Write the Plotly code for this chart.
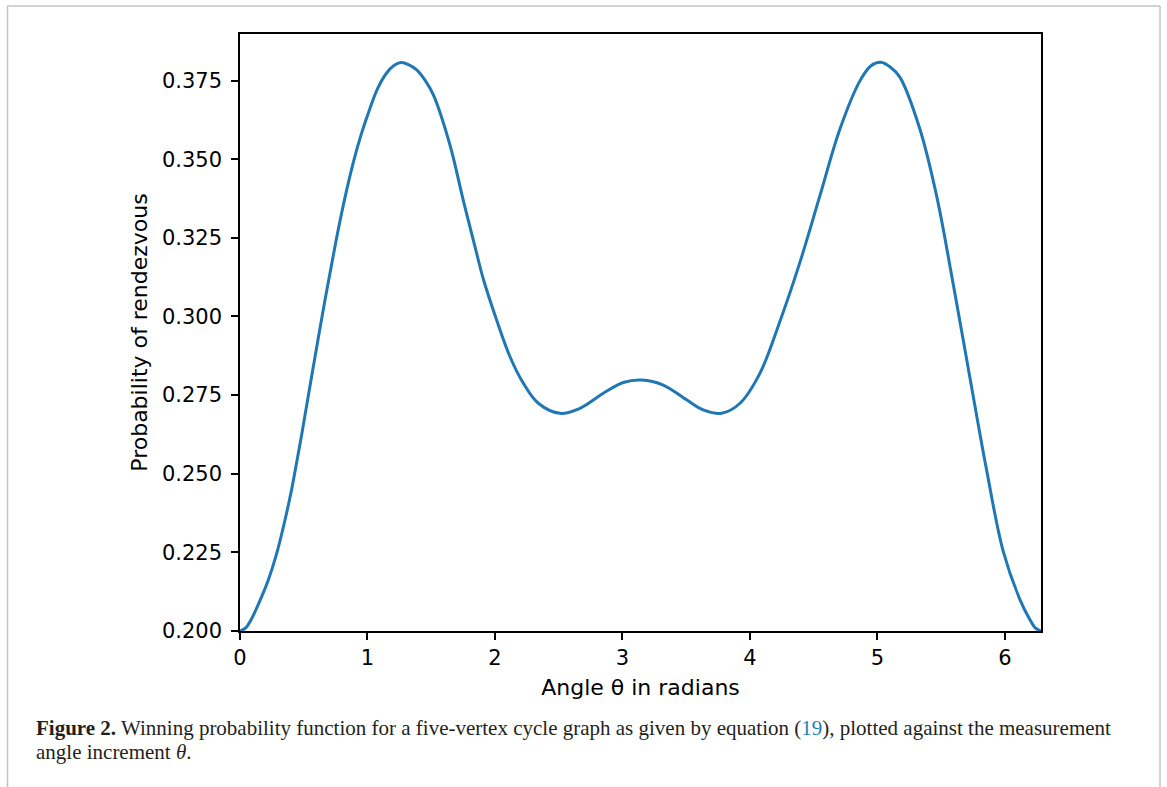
import math
import plotly.graph_objects as go

# ---- data ----
theta = [0.000, 0.045, 0.092, 0.170, 0.222, 0.288, 0.353, 0.405, 0.444, 0.484, 0.558,
         0.667, 0.753, 0.819, 0.889, 0.950, 1.020, 1.080, 1.150, 1.205, 1.263, 1.325,
         1.386, 1.450, 1.516, 1.647, 1.751, 1.856, 1.908, 2.013, 2.118, 2.222, 2.340,
         2.510, 2.667, 2.850, 3.007, 3.150, 3.320, 3.503, 3.634, 3.778, 3.922,
         4.078, 4.235, 4.392, 4.549, 4.706, 4.863, 4.950, 5.027, 5.100, 5.176, 5.333,
         5.464, 5.595, 5.725, 5.856, 5.987, 6.118, 6.191, 6.238, 6.283]
prob = [0.2000, 0.2010, 0.2040, 0.2109, 0.2162, 0.2247, 0.2353, 0.2450, 0.2535, 0.2625, 0.2800,
        0.3053, 0.3240, 0.3370, 0.3490, 0.3578, 0.3662, 0.3725, 0.3774, 0.3797, 0.3807, 0.3800,
        0.3784, 0.3752, 0.3705, 0.3545, 0.3370, 0.3201, 0.3120, 0.2989, 0.2872, 0.2788, 0.2724,
        0.2692, 0.2708, 0.2756, 0.2790, 0.2798, 0.2782, 0.2735, 0.2703, 0.2692, 0.2724,
        0.2819, 0.2984, 0.3172, 0.3384, 0.3596, 0.3749, 0.3797, 0.3808, 0.3793, 0.3761, 0.3596,
        0.3384, 0.3102, 0.2807, 0.2513, 0.2253, 0.2100, 0.2040, 0.2010, 0.2000]

x_ticks = [0, 1, 2, 3, 4, 5, 6]
x_tick_labels = ["0", "1", "2", "3", "4", "5", "6"]
y_ticks = [0.200, 0.225, 0.250, 0.275, 0.300, 0.325, 0.350, 0.375]
y_tick_labels = ["0.200", "0.225", "0.250", "0.275", "0.300", "0.325", "0.350", "0.375"]

x_title = "Angle θ in radians"
y_title = "Probability of rendezvous"
caption_1 = ("<b>Figure 2.</b> Winning probability function for a five-vertex cycle graph as given by "
             "equation (<span style='color:#1c7fb6'>19</span>), plotted against the measurement")
caption_2 = "angle increment <i>θ</i>."

# ---- layout geometry (pixels) ----
W, H = 1167, 787
L, R, T, B = 240, 1041, 34, 631


def px(xpix):
    return (xpix - L) / (R - L)


def py(ypix):
    return (B - ypix) / (B - T)


fig = go.Figure()
fig.add_trace(go.Scatter(
    x=theta, y=prob, mode="lines",
    line=dict(color="#1f77b4", width=3, shape="spline", smoothing=1.0),
    showlegend=False, hoverinfo="skip",
))

tick_font = dict(family="DejaVu Sans", size=21, color="black")
title_font = dict(family="DejaVu Sans", size=22, color="black")

fig.update_layout(
    width=W, height=H,
    margin=dict(l=L, r=W - R, t=T, b=H - B),
    paper_bgcolor="white", plot_bgcolor="white",
    font=tick_font,
    xaxis=dict(
        range=[0, 2 * math.pi], tickmode="array", tickvals=x_ticks, ticktext=x_tick_labels,
        ticks="outside", ticklen=7, tickwidth=1.6, tickcolor="black",
        showline=True, linecolor="black", linewidth=1.6, mirror=True,
        showgrid=False, zeroline=False, tickfont=tick_font,
        title=dict(text=x_title, font=title_font, standoff=11),
    ),
    yaxis=dict(
        range=[0.2, 0.3898], tickmode="array", tickvals=y_ticks, ticktext=y_tick_labels,
        ticks="outside", ticklen=7, tickwidth=1.6, tickcolor="black",
        showline=True, linecolor="black", linewidth=1.6, mirror=True,
        showgrid=False, zeroline=False, tickfont=tick_font, ticklabelstandoff=5,
        title=dict(text=y_title, font=title_font, standoff=8),
    ),
)

cap_font = dict(family="Liberation Serif", size=21, color="#231f20")
fig.add_annotation(x=px(34), y=py(728), xref="paper", yref="paper", text=caption_1,
                   showarrow=False, xanchor="left", yanchor="middle", font=cap_font)
fig.add_annotation(x=px(34), y=py(752), xref="paper", yref="paper", text=caption_2,
                   showarrow=False, xanchor="left", yanchor="middle", font=cap_font)

# light grey frame around the figure panel
frame = dict(color="#c4c4c4", width=1.5)
fig.add_shape(type="line", xref="paper", yref="paper", x0=px(7.5), x1=px(7.5), y0=py(6), y1=py(787), line=frame)
fig.add_shape(type="line", xref="paper", yref="paper", x0=px(7.5), x1=px(1160), y0=py(6), y1=py(6), line=frame)
fig.add_shape(type="line", xref="paper", yref="paper", x0=px(1160), x1=px(1160), y0=py(6), y1=py(787), line=frame)

fig.write_html("out.html", config={"displayModeBar": False},
               post_script="document.body.style.margin='0';")
